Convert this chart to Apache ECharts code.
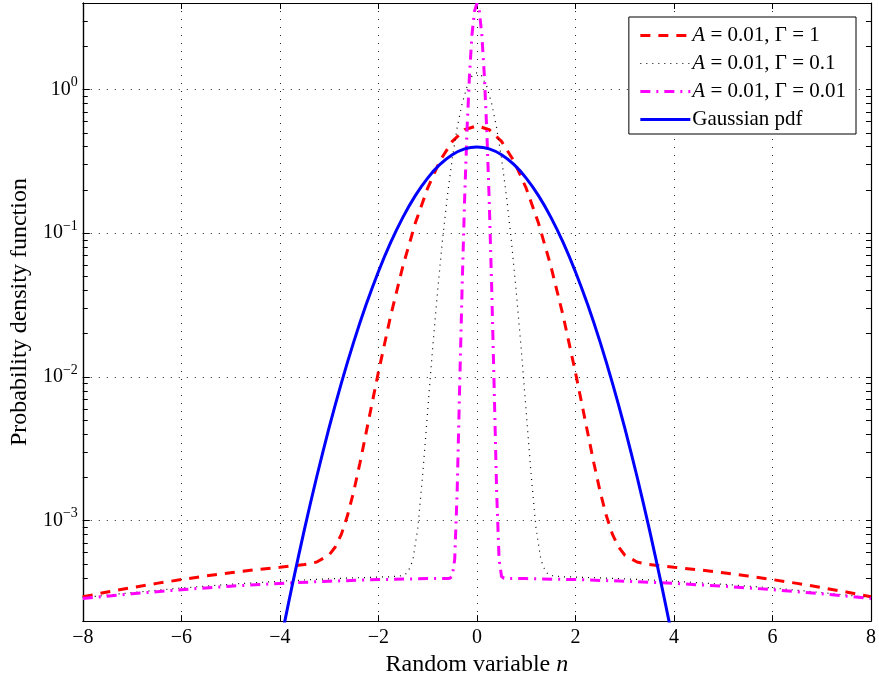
<!DOCTYPE html>
<html>
<head>
<meta charset="utf-8">
<script src="https://cdn.jsdelivr.net/npm/echarts@6/dist/echarts.min.js"></script>
<style>
  html, body { margin: 0; padding: 0; background: #fff; }
  #chart { width: 879px; height: 682px; }
</style>
</head>
<body>
<div id="chart"></div>
<script>
// curves (x, pdf value)
var gamma1X = [-8, -7.5, -7, -6.5, -6, -5.5, -5, -4.5, -4, -3.5, -3.25, -3, -2.875, -2.75, -2.625, -2.5, -2.375, -2.25, -2.125, -2, -1.75, -1.5, -1.25, -1, -0.75, -0.5, -0.25,
  0, 0.25, 0.5, 0.75, 1, 1.25, 1.5, 1.75, 2, 2.125, 2.25, 2.375, 2.5, 2.625, 2.75, 2.875, 3, 3.25, 3.5, 4, 4.5, 5, 5.5, 6, 6.5, 7, 7.5, 8];
var gamma1Y = [0.000295, 0.000319, 0.000342, 0.000366, 0.000389, 0.000412, 0.000434, 0.000455, 0.000474, 0.000495, 0.000515, 0.000577, 0.000656, 0.000806, 0.00109, 0.00160, 0.00251, 0.00407, 0.00664, 0.01077, 0.02667, 0.0594, 0.1176, 0.2060, 0.3188, 0.4356, 0.5253,
  0.5591, 0.5253, 0.4356, 0.3188, 0.2060, 0.1176, 0.0594, 0.02667, 0.01077, 0.00664, 0.00407, 0.00251, 0.00160, 0.00109, 0.000806, 0.000656, 0.000577, 0.000515, 0.000495, 0.000474, 0.000455, 0.000434, 0.000412, 0.000389, 0.000366, 0.000342, 0.000319, 0.000295];

var gamma01X = [-8, -7, -6, -5, -4, -3, -2, -1.75, -1.5, -1.4, -1.3, -1.2, -1.1, -1, -0.9, -0.8, -0.7, -0.6, -0.5, -0.4, -0.3, -0.2, -0.1,
  0, 0.1, 0.2, 0.3, 0.4, 0.5, 0.6, 0.7, 0.8, 0.9, 1, 1.1, 1.2, 1.3, 1.4, 1.5, 1.75, 2, 3, 4, 5, 6, 7, 8];
var gamma01Y = [0.000291, 0.000316, 0.000340, 0.000361, 0.000379, 0.000394, 0.000405, 0.000407, 0.000415, 0.000437, 0.000531, 0.000887, 0.002099, 0.005765, 0.01564, 0.0388, 0.0885, 0.1809, 0.3312, 0.5434, 0.7986, 1.0513, 1.2399,
  1.3104, 1.2399, 1.0513, 0.7986, 0.5434, 0.3312, 0.1809, 0.0885, 0.0388, 0.01564, 0.005765, 0.002099, 0.000887, 0.000531, 0.000437, 0.000415, 0.000407, 0.000405, 0.000394, 0.000379, 0.000361, 0.000340, 0.000316, 0.000291];

var gamma001X = [-8, -7, -6, -5, -4, -3, -2, -1, -0.6, -0.55, -0.5, -0.45, -0.4, -0.35, -0.3, -0.25, -0.2, -0.15, -0.1, -0.05,
  0, 0.05, 0.1, 0.15, 0.2, 0.25, 0.3, 0.35, 0.4, 0.45, 0.5, 0.55, 0.6, 1, 2, 3, 4, 5, 6, 7, 8];
var gamma001Y = [0.000287, 0.000310, 0.000331, 0.000350, 0.000366, 0.000379, 0.000389, 0.000395, 0.000396, 0.000397, 0.000409, 0.000540, 0.001627, 0.008566, 0.04215, 0.1691, 0.5266, 1.2742, 2.3956, 3.4987,
  3.9698, 3.4987, 2.3956, 1.2742, 0.5266, 0.1691, 0.04215, 0.008566, 0.001627, 0.000540, 0.000409, 0.000397, 0.000396, 0.000395, 0.000389, 0.000379, 0.000366, 0.000350, 0.000331, 0.000310, 0.000287];

var gaussX = [-4, -3.9, -3.75, -3.5, -3.25, -3, -2.75, -2.5, -2.25, -2, -1.75, -1.5, -1.25, -1, -0.75, -0.5, -0.25,
  0, 0.25, 0.5, 0.75, 1, 1.25, 1.5, 1.75, 2, 2.25, 2.5, 2.75, 3, 3.25, 3.5, 3.75, 3.9, 4];
var gaussY = [0.000134, 0.000199, 0.000353, 0.000873, 0.002029, 0.004432, 0.00909, 0.01753, 0.03174, 0.0540, 0.0863, 0.1295, 0.1826, 0.2420, 0.3011, 0.3521, 0.3867,
  0.3989, 0.3867, 0.3521, 0.3011, 0.2420, 0.1826, 0.1295, 0.0863, 0.0540, 0.03174, 0.01753, 0.00909, 0.004432, 0.002029, 0.000873, 0.000353, 0.000199, 0.000134];

var seriesNames = ['A = 0.01, Γ = 1', 'A = 0.01, Γ = 0.1', 'A = 0.01, Γ = 0.01', 'Gaussian pdf'];
var yMin = 2e-4, yMax = 4;
var yDecades = [-3, -2, -1, 0];
var yMinorValues = [3e-4, 4e-4, 5e-4, 6e-4, 7e-4, 8e-4, 9e-4,
  2e-3, 3e-3, 4e-3, 5e-3, 6e-3, 7e-3, 8e-3, 9e-3,
  2e-2, 3e-2, 4e-2, 5e-2, 6e-2, 7e-2, 8e-2, 9e-2,
  0.2, 0.3, 0.4, 0.5, 0.6, 0.7, 0.8, 0.9, 2, 3];

function pairs(xs, ys) {
  return xs.map(function (x, i) { return [x, ys[i]]; });
}

var FONT = '"Liberation Serif", "DejaVu Serif", serif';
var lMin = Math.log10(yMin), lMax = Math.log10(yMax);
var minorExp = yMinorValues.map(function (v) { return Math.log10(v); });

var chart = echarts.init(document.getElementById('chart'));

var dotted = { color: '#222', width: 1, type: [1, 7] };
var frame = { color: '#000', width: 1.2 };

var option = {
  animation: false,
  backgroundColor: '#fff',
  grid: { left: 82, right: 7, top: 3, bottom: 56, containLabel: false },
  legend: {
    orient: 'vertical',
    right: 23,
    top: 17,
    data: seriesNames,
    backgroundColor: '#fff',
    borderColor: '#000',
    borderWidth: 1,
    borderRadius: 0,
    padding: [8, 10, 4, 10],
    itemGap: 7,
    itemWidth: 50,
    itemHeight: 14,
    itemStyle: { opacity: 0 },
    lineStyle: { width: 'inherit', type: 'inherit' },
    formatter: function (name) {
      return name.replace(/^A/, '{i|A}');
    },
    textStyle: {
      fontFamily: FONT, fontSize: 21, color: '#000', padding: [0, 0, 0, -3], lineHeight: 21,
      rich: { i: { fontFamily: FONT, fontSize: 21, fontStyle: 'italic', color: '#000', lineHeight: 21 } }
    }
  },
  xAxis: [{
    type: 'value', min: -8, max: 8, interval: 2, position: 'bottom',
    axisLine: { onZero: false, lineStyle: frame },
    axisTick: { inside: true, length: 6, lineStyle: { color: '#000' } },
    axisLabel: {
      fontFamily: FONT, fontSize: 20, color: '#000', margin: 7,
      formatter: function (v) { return String(v).replace('-', '\u2212'); }
    },
    splitLine: { show: true, lineStyle: dotted },
    name: 'Random variable {i|n}',
    nameLocation: 'middle',
    nameGap: 28,
    nameTextStyle: {
      fontFamily: FONT, fontSize: 24, color: '#000',
      rich: { i: { fontFamily: FONT, fontSize: 24, fontStyle: 'italic', color: '#000' } }
    }
  }, {
    type: 'value', min: -8, max: 8, interval: 2, position: 'top',
    axisLine: { onZero: false, lineStyle: frame },
    axisTick: { inside: true, length: 6, lineStyle: { color: '#000' } },
    axisLabel: { show: false },
    splitLine: { show: false }
  }],
  yAxis: [{
    // data axis
    type: 'log', logBase: 10, min: yMin, max: yMax, show: false
  }, {
    type: 'value', min: lMin, max: lMax, position: 'left',
    axisLine: { show: true, onZero: false, lineStyle: frame },
    axisTick: { show: true, inside: true, length: 7, customValues: yDecades, lineStyle: { color: '#000' } },
    axisLabel: {
      customValues: yDecades, fontFamily: FONT, fontSize: 20, color: '#000', margin: 5,
      formatter: function (v) { return '10{s|' + String(Math.round(v)).replace('-', '\u2212') + '}'; },
      rich: { s: { fontFamily: FONT, fontSize: 14, color: '#000', verticalAlign: 'bottom', padding: [0, 0, 14, 0] } }
    },
    splitLine: { show: true, lineStyle: dotted },
    name: 'Probability density function',
    nameLocation: 'middle',
    nameGap: 48,
    nameTextStyle: { fontFamily: FONT, fontSize: 24, color: '#000' }
  }, {
    type: 'value', min: lMin, max: lMax, position: 'left',
    axisLine: { show: true, onZero: false, lineStyle: frame },
    axisTick: { show: true, inside: true, length: 5, customValues: minorExp, lineStyle: { color: '#000' } },
    axisLabel: { show: false },
    splitLine: { show: false }
  }, {
    type: 'value', min: lMin, max: lMax, position: 'right',
    axisLine: { show: true, onZero: false, lineStyle: frame },
    axisTick: { show: true, inside: true, length: 5, customValues: yDecades.concat(minorExp), lineStyle: { color: '#000' } },
    axisLabel: { show: false },
    splitLine: { show: false }
  }],
  series: [{
    name: seriesNames[0], type: 'line', xAxisIndex: 0, yAxisIndex: 0,
    symbol: 'none', clip: true,
    lineStyle: { color: '#ff0000', width: 3, type: [10, 8] },
    itemStyle: { color: '#ff0000' },
    data: pairs(gamma1X, gamma1Y)
  }, {
    name: seriesNames[1], type: 'line', xAxisIndex: 0, yAxisIndex: 0,
    symbol: 'none', clip: true,
    lineStyle: { color: '#000', width: 1.2, type: [1, 5] },
    itemStyle: { color: '#000' },
    data: pairs(gamma01X, gamma01Y)
  }, {
    name: seriesNames[2], type: 'line', xAxisIndex: 0, yAxisIndex: 0,
    symbol: 'none', clip: true,
    lineStyle: { color: '#ff00ff', width: 3, type: [10, 6, 2, 6] },
    itemStyle: { color: '#ff00ff' },
    data: pairs(gamma001X, gamma001Y)
  }, {
    name: seriesNames[3], type: 'line', xAxisIndex: 0, yAxisIndex: 0,
    symbol: 'none', clip: true, smooth: 0.3,
    lineStyle: { color: '#0000ff', width: 3 },
    itemStyle: { color: '#0000ff' },
    data: pairs(gaussX, gaussY)
  }]
};

chart.setOption(option);
</script>
</body>
</html>
